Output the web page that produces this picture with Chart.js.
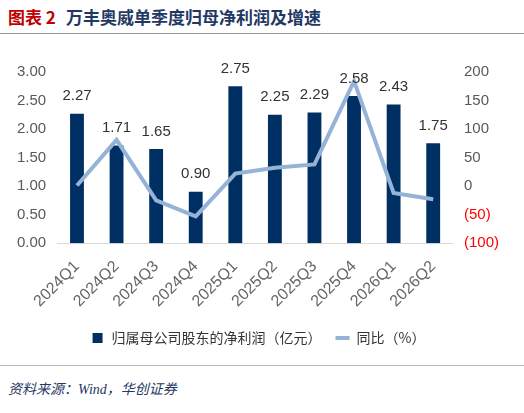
<!DOCTYPE html><html><head><meta charset="utf-8">
<script src="https://cdn.jsdelivr.net/npm/chart.js@4"></script>
<style>body{margin:0;width:524px;height:413px;background:#fff;font-family:"Noto Sans CJK SC",sans-serif;position:relative;overflow:hidden}
#t{position:absolute;left:8px;top:4px;font-size:17px;font-weight:bold;color:#1f3864}
#t span{color:#c00000;margin-right:10px}
#hr{position:absolute;left:0;top:33px;width:524px;border-top:1px solid #999}
#src{position:absolute;left:8px;top:378px;font-size:14px;font-style:italic;color:#1f3864;font-family:"Liberation Serif","Noto Sans CJK SC",serif}
#hr2{position:absolute;left:0;top:365px;width:524px;border-top:1px solid #bbb}
#w{position:absolute;left:0;top:50px;width:524px;height:305px}</style></head><body>
<div id="t"><span>图表 2</span>万丰奥威单季度归母净利润及增速</div><div id="hr"></div>
<div id="w"><canvas id="c"></canvas></div><div id="hr2"></div>
<div id="src">资料来源：Wind，华创证券</div>
<script>
const categories=["2024Q1","2024Q2","2024Q3","2024Q4","2025Q1","2025Q2","2025Q3","2025Q4","2026Q1","2026Q2"];
const profit=[2.27,1.71,1.65,0.90,2.75,2.25,2.29,2.58,2.43,1.75];
const yoy=[1,81,-25,-53,22,32,38,184,-12,-23];
const labelPlugin={id:'lbl',afterDatasetsDraw(ch){const ctx=ch.ctx;const m=ch.getDatasetMeta(1);ctx.save();ctx.font='15px "Liberation Sans",Arial';ctx.fillStyle='#333';ctx.textAlign='center';ctx.textBaseline='bottom';
m.data.forEach((b,i)=>ctx.fillText(profit[i].toFixed(2),b.x,b.y-10));ctx.restore();}};
new Chart(document.getElementById('c'),{data:{labels:categories,datasets:[
{type:'line',label:'同比（%）',data:yoy,yAxisID:'y1',borderColor:'#95b3d7',backgroundColor:'#95b3d7',borderWidth:4,pointRadius:0,pointStyle:'line',tension:0,order:0},
{type:'bar',label:'归属母公司股东的净利润（亿元）',data:profit,yAxisID:'y',backgroundColor:'#002f63',pointStyle:'rect',barPercentage:0.35,categoryPercentage:1,order:1}]},
options:{responsive:true,maintainAspectRatio:false,animation:false,layout:{padding:{left:14,right:22,top:22}},
plugins:{legend:{position:'bottom',reverse:true,labels:{usePointStyle:true,font:{size:14,family:'"Noto Sans CJK SC"'},color:'#333',boxWidth:34,boxHeight:10,padding:14}},tooltip:{enabled:false}},
scales:{x:{grid:{display:false},border:{color:'#d9d9d9'},ticks:{color:'#666',font:{size:16,family:'"Liberation Sans"'},maxRotation:45,minRotation:45,padding:6}},
y:{min:0,max:3,grid:{display:false},border:{display:false},ticks:{stepSize:0.5,color:'#595959',font:{size:15,family:'"Liberation Sans"'},callback:v=>v.toFixed(2)}},
y1:{position:'right',min:-100,max:200,grid:{display:false},border:{display:false},ticks:{stepSize:50,font:{size:15,family:'"Liberation Sans"'},color:c=>c.tick.value<0?'#ff0000':'#595959',callback:v=>v<0?'('+(-v)+')':v}}}},
plugins:[labelPlugin]});
</script></body></html>
